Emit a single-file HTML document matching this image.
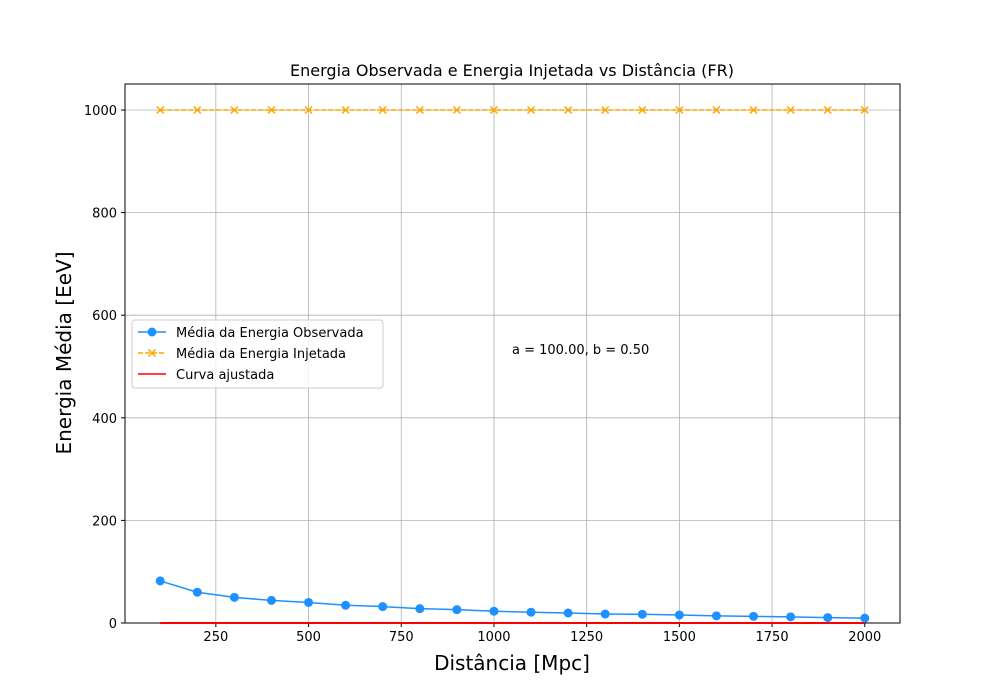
<!DOCTYPE html>
<html><head><meta charset="utf-8"><style>
body{margin:0;background:#fff;}
svg{display:block;font-family:"DejaVu Sans","Liberation Sans",sans-serif;}
</style></head><body>
<svg id="chart" width="1000" height="700">
<text x="512" y="76" text-anchor="middle" font-size="16">Energia Observada e Energia Injetada vs Distância (FR)</text>
<g id="grid"></g>
<g id="ticks"></g>
<rect x="125" y="84" width="775" height="539" fill="none" stroke="#000" stroke-width="1"/>
<g id="series"></g>
<text x="512" y="670" text-anchor="middle" font-size="20">Distância [Mpc]</text>
<text transform="translate(71,353) rotate(-90)" text-anchor="middle" font-size="20">Energia Média [EeV]</text>
<text x="512" y="354" font-size="13">a = 100.00, b = 0.50</text>
<g>
<rect x="132" y="320" width="251" height="68" rx="3" fill="#fff" fill-opacity="0.8" stroke="#ccc"/>
<g><line x1="138" y1="332" x2="166" y2="332" stroke="#1e90ff" stroke-width="1.5"/><circle cx="152" cy="332" r="4.5" fill="#1e90ff"/><text x="176" y="337" font-size="13">Média da Energia Observada</text></g>
<g><line x1="138" y1="353" x2="166" y2="353" stroke="orange" stroke-width="1.5" stroke-dasharray="5,2"/><path d="M148.5 349.5l7 7M155.5 349.5l-7 7" stroke="orange" stroke-width="1.5"/><text x="176" y="358" font-size="13">Média da Energia Injetada</text></g>
<g><line x1="138" y1="374" x2="166" y2="374" stroke="red" stroke-width="1.5"/><text x="176" y="379" font-size="13">Curva ajustada</text></g>
</g>
</svg>
<script>
const distances=[100,200,300,400,500,600,700,800,900,1000,1100,1200,1300,1400,1500,1600,1700,1800,1900,2000];
const observed=[82,60,50,44,40,34.5,32,28,26,23,21,19.5,17.5,17,15.6,14,13,12,10.5,9.5];
const injected=[1000,1000,1000,1000,1000,1000,1000,1000,1000,1000,1000,1000,1000,1000,1000,1000,1000,1000,1000,1000];
const fitA=100, fitB=0.5;
const xTicks=[250,500,750,1000,1250,1500,1750,2000];
const yTicks=[0,200,400,600,800,1000];
const X0=125,X1=900,Y0=623,Y1=84,xmin=5,xmax=2095,ymin=0,ymax=1050.7;
const sx=v=>X0+(v-xmin)/(xmax-xmin)*(X1-X0);
const sy=v=>Y0-(v-ymin)/(ymax-ymin)*(Y0-Y1);
const NS="http://www.w3.org/2000/svg";
function mk(t,a,p){const e=document.createElementNS(NS,t);for(const k in a)e.setAttribute(k,a[k]);p.appendChild(e);return e;}
const grid=document.getElementById('grid'),ticks=document.getElementById('ticks'),ser=document.getElementById('series');
xTicks.forEach(v=>{const x=sx(v);
const g=mk('line',{x1:x,x2:x,y1:Y1,y2:Y0,stroke:'#b0b0b0','stroke-width':0.8},grid);


mk('line',{x1:x,x2:x,y1:Y0,y2:Y0+4,stroke:'#000'},ticks);
const t=mk('text',{x:x,y:Y0+18,'text-anchor':'middle','font-size':13},ticks);t.textContent=v;

});
yTicks.forEach(v=>{const y=sy(v);
const g=mk('line',{x1:X0,x2:X1,y1:y,y2:y,stroke:'#b0b0b0','stroke-width':0.8},grid);


mk('line',{x1:X0-4,x2:X0,y1:y,y2:y,stroke:'#000'},ticks);
const t=mk('text',{x:X0-8,y:y+5,'text-anchor':'end','font-size':13},ticks);t.textContent=v;

});
const fitPts=distances.map(d=>sx(d)+','+sy(fitA*Math.exp(-fitB*d))).join(' ');
const fl=mk('polyline',{points:fitPts,fill:'none',stroke:'red','stroke-width':2},ser);


const il=mk('polyline',{points:distances.map((d,i)=>sx(d)+','+sy(injected[i])).join(' '),fill:'none',stroke:'orange','stroke-width':1.5,'stroke-dasharray':'5,2'},ser);


distances.forEach((d,i)=>{const x=sx(d),y=sy(injected[i]);
const m=mk('path',{d:`M${x-3.5} ${y-3.5}l7 7M${x+3.5} ${y-3.5}l-7 7`,stroke:'orange','stroke-width':1.5},ser);

});
const ol=mk('polyline',{points:distances.map((d,i)=>sx(d)+','+sy(observed[i])).join(' '),fill:'none',stroke:'#1e90ff','stroke-width':1.5},ser);


distances.forEach((d,i)=>{
const c=mk('circle',{cx:sx(d),cy:sy(observed[i]),r:4.5,fill:'#1e90ff'},ser);

});
</script>
</body></html>
